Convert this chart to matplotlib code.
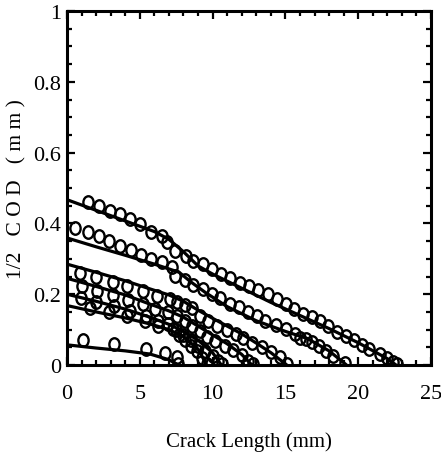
import numpy as np
import matplotlib
matplotlib.use("Agg")
import matplotlib.pyplot as plt
from matplotlib.path import Path
from matplotlib.transforms import Affine2D
from matplotlib.ticker import MultipleLocator

plt.rcParams["font.family"] = ["Liberation Serif", "DejaVu Serif"]

# Computed crack-opening profiles (solid lines), one per crack length
line_x = [
    [0, 2, 4, 6, 7, 8, 9, 10, 11, 12, 14, 16, 18, 20, 22, 22.6],
    [0, 2, 4, 6, 7.7, 8.5, 9.5, 11, 13, 15, 16.5, 18, 19.2],
    [0, 2, 4, 5.7, 7, 8, 9, 10, 11, 12, 13, 14, 15.1],
    [0, 2, 4, 5.7, 7, 8, 9, 10, 11, 12, 12.7],
    [0, 2, 4, 5.7, 7, 8, 9, 10, 10.6],
    [0, 2, 4, 5.7, 7, 8, 9, 9.6],
    [0, 2, 4, 5.7, 7, 7.65],
]
line_y = [
    [.467, .437, .407, .377, .355, .32, .28, .257, .237, .217, .177, .14, .103, .063, .018, 0],
    [.359, .334, .31, .285, .262, .235, .205, .165, .125, .095, .075, .04, 0],
    [.285, .262, .238, .215, .198, .18, .155, .132, .11, .088, .062, .035, 0],
    [.245, .222, .198, .172, .153, .135, .11, .085, .06, .03, 0],
    [.2, .18, .158, .135, .115, .095, .07, .035, 0],
    [.168, .15, .133, .116, .1, .08, .045, 0],
    [.057, .048, .04, .031, .015, 0],
]

# Measured crack-opening displacements (open circles)
meas_x = [
    [1.46, 2.22, 2.95, 3.64, 4.33, 5.01, 5.75, 6.5, 6.89, 7.42, 8.17, 8.68, 9.34, 9.94,
     10.58, 11.19, 11.85, 12.48, 13.1, 13.78, 14.40, 15.04, 15.59, 16.23, 16.81, 17.38,
     17.95, 18.53, 19.15, 19.74, 20.25, 20.77, 21.50, 21.96, 22.41, 22.65],
    [0.55, 1.46, 2.22, 2.91, 3.64, 4.37, 5.06, 5.75, 6.5, 7.19, 7.42, 8.1, 8.68, 9.32,
     9.94, 10.51, 11.19, 11.8, 12.4, 13.03, 13.6, 14.36, 15.04, 15.66, 16.0, 16.41, 16.8,
     17.33, 17.79, 18.29, 19.09],
    [0.89, 1.99, 3.14, 4.1, 5.2, 6.16, 7.07, 7.53, 8.1, 8.6, 9.13, 9.71, 10.32, 10.97,
     11.61, 12.11, 12.68, 13.37, 13.99, 14.63, 15.13],
    [1.01, 2.04, 3.18, 4.21, 5.24, 6.04, 6.96, 7.53, 8.1, 8.6, 9.13, 9.6, 10.16, 10.85,
     11.42, 12.0, 12.45, 12.75],
    [0.94, 1.99, 3.23, 4.33, 5.43, 6.27, 6.96, 7.5, 8.0, 8.5, 9.0, 9.5, 10.0, 10.4, 10.62],
    [1.58, 2.91, 4.1, 5.36, 6.27, 7.3, 7.7, 8.1, 8.5, 8.9, 9.3, 9.6],
    [1.08, 3.23, 5.43, 6.73, 7.58, 7.65],
]
meas_y = [
    [.46, .449, .436, .427, .412, .398, .377, .364, .348, .323, .309, .295, .285, .272,
     .258, .246, .233, .222, .213, .201, .186, .172, .158, .144, .135, .124, .109, .092,
     .081, .072, .056, .045, .031, .019, .008, .003],
    [.386, .377, .364, .351, .337, .326, .311, .299, .29, .276, .252, .241, .226, .215,
     .201, .188, .173, .163, .149, .139, .125, .113, .102, .088, .075, .073, .064, .055,
     .041, .026, .006],
    [.26, .248, .234, .222, .208, .196, .186, .177, .17, .16, .139, .125, .111, .099,
     .088, .076, .062, .05, .036, .022, .003],
    [.224, .21, .198, .185, .172, .158, .149, .139, .125, .11, .095, .08, .068, .055,
     .042, .028, .012, .003],
    [.188, .177, .166, .153, .139, .125, .116, .1, .085, .07, .055, .04, .025, .01, .003],
    [.16, .151, .139, .125, .111, .102, .085, .07, .055, .04, .02, .003],
    [.072, .059, .045, .033, .022, .003],
]

x_ticks = [0, 5, 10, 15, 20, 25]
y_ticks = [0, 0.2, 0.4, 0.6, 0.8, 1.0]
y_tick_labels = ["0", "0.2", "0.4", "0.6", "0.8", "1"]

# slightly tall open-circle marker
ellipse = Path.unit_circle().transformed(Affine2D().scale(0.82, 1.0))

fig = plt.figure(figsize=(4.41, 4.60), dpi=100)
ax = fig.add_axes([0.1519, 0.2043, 0.8254, 0.7696])

for lx, ly in zip(line_x, line_y):
    ax.plot(lx, ly, color="black", lw=2.3, solid_capstyle="butt", zorder=2)
for mx, my in zip(meas_x, meas_y):
    ax.plot(mx, my, linestyle="none", marker=ellipse, markersize=9,
            markerfacecolor="none", markeredgecolor="black", markeredgewidth=1.7,
            zorder=3)

ax.set_xlim(0, 25)
ax.set_ylim(0, 1)
ax.set_xticks(x_ticks)
ax.set_yticks(y_ticks)
ax.set_yticklabels(y_tick_labels)
ax.xaxis.set_minor_locator(MultipleLocator(1))
ax.yaxis.set_minor_locator(MultipleLocator(0.05))

ax.tick_params(which="both", direction="in", top=True, right=True,
               labelsize=16, width=1.6)
ax.tick_params(which="major", length=6)
ax.tick_params(which="minor", length=3.5)
ax.tick_params(axis="x", which="major", pad=14)
ax.tick_params(axis="y", which="major", pad=4)
for sp in ax.spines.values():
    sp.set_linewidth(2.2)

ax.set_xlabel("Crack Length (mm)", fontsize=15, labelpad=20)
ax.set_ylabel("1/2   C O D   ( m m )", fontsize=15.5, labelpad=5)

fig.savefig("out.png", dpi=100)
